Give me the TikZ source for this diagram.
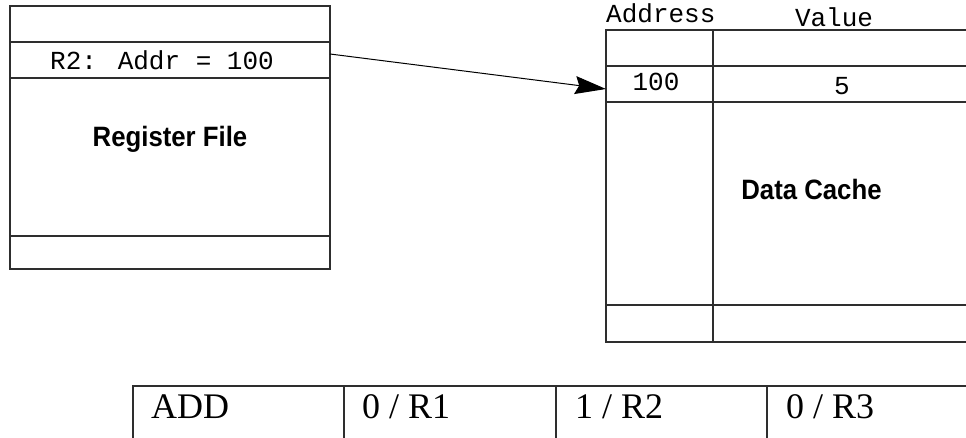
\documentclass[tikz,border=0pt]{standalone}
\usepackage{fontspec}
\setmainfont{Liberation Serif}
\newfontfamily\monofont{Liberation Mono}
\newfontfamily\titlefont[FakeStretch=0.92]{Liberation Sans Bold}
\usetikzlibrary{arrows.meta}
\tikzset{
  cell/.style={draw=black!82, line width=1.1pt, rectangle, inner sep=0pt, outer sep=0pt},
  monotext/.style={font=\monofont\fontsize{26}{30}\selectfont, inner sep=0pt},
  titletext/.style={font=\titlefont\fontsize{28}{32}\selectfont, inner sep=0pt, anchor=base},
  optext/.style={font=\fontsize{36}{40}\selectfont, inner sep=0pt, anchor=base west},
  link/.style={line width=1pt, -{Stealth[length=31pt,width=18pt,inset=4pt]}}
}
\begin{document}
\begin{tikzpicture}[x=1pt,y=-1pt]
\useasboundingbox (0,0) rectangle (966,438);

% ---- register file ----
\node[cell, minimum width=320pt, minimum height=36pt]  (rtop)  at (170,24)    {};
\node[cell, minimum width=320pt, minimum height=36pt]  (rr2)   at (170,60)    {};
\node[cell, minimum width=320pt, minimum height=158pt] (rbody) at (170,157)   {};
\node[cell, minimum width=320pt, minimum height=33pt]  (rbot)  at (170,252.5) {};
\node[monotext] (r2txt) at (162,60) {R2: Addr = 100};
\node[titletext] (rftitle) at (170,147) {Register File};

% ---- data cache ----
\node[cell, minimum width=107pt, minimum height=36pt]  (ca1) at (659.5,48)  {};
\node[cell, minimum width=267pt, minimum height=36pt]  (cv1) at (846.5,48)  {};
\node[cell, minimum width=107pt, minimum height=36pt]  (ca2) at (659.5,84)  {};
\node[cell, minimum width=267pt, minimum height=36pt]  (cv2) at (846.5,84)  {};
\node[cell, minimum width=107pt, minimum height=203pt] (ca3) at (659.5,203.5) {};
\node[cell, minimum width=267pt, minimum height=203pt] (cv3) at (846.5,203.5) {};
\node[cell, minimum width=107pt, minimum height=37pt]  (ca4) at (659.5,323.5) {};
\node[cell, minimum width=267pt, minimum height=37pt]  (cv4) at (846.5,323.5) {};
\node[monotext, anchor=base west] (addrhead) at (606,23) {Address};
\node[monotext, anchor=base] (valhead) at (834,27) {Value};
\node[monotext, anchor=base] (addr100) at (656,91) {100};
\node[monotext, anchor=base] (val5) at (842,95) {5};
\node[titletext] (dctitle) at (811.5,200) {Data Cache};

% ---- instruction fields ----
\node[cell, minimum width=211pt, minimum height=80pt] (fop) at (238.5,426) {};
\node[cell, minimum width=212pt, minimum height=80pt] (fa)  at (450,426)   {};
\node[cell, minimum width=211pt, minimum height=80pt] (fb)  at (661.5,426) {};
\node[cell, minimum width=213pt, minimum height=80pt] (fc)  at (873.5,426) {};
\node[optext] (optxt) at (151,418) {ADD};
\node[optext] (atxt)  at (362,418) {0 / R1};
\node[optext] (btxt)  at (575,418) {1 / R2};
\node[optext] (ctxt)  at (786,418) {0 / R3};

% ---- register points to cache line ----
\draw[link] ([yshift=6pt]rr2.east) -- ([yshift=-5pt]ca2.west);
\end{tikzpicture}
\end{document}
